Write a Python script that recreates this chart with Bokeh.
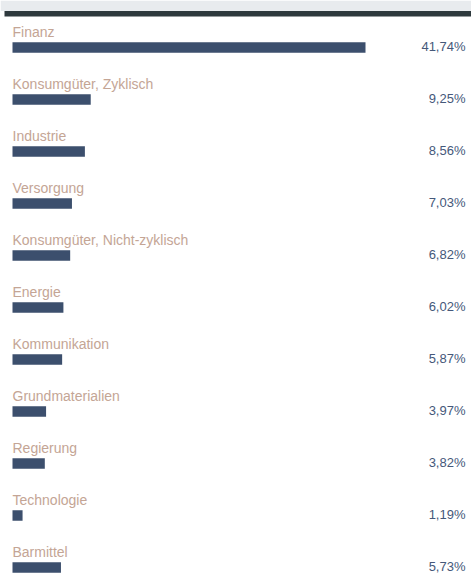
from bokeh.plotting import figure
from bokeh.models import Range1d, BoxAnnotation, ColumnDataSource
from bokeh.embed import file_html
from bokeh.resources import INLINE
from bokeh.core.properties import value

categories = ["Finanz", "Konsumgüter, Zyklisch", "Industrie", "Versorgung",
              "Konsumgüter, Nicht-zyklisch", "Energie", "Kommunikation",
              "Grundmaterialien", "Regierung", "Technologie", "Barmittel"]
values = [41.74, 9.25, 8.56, 7.03, 6.82, 6.02, 5.87, 3.97, 3.82, 1.19, 5.73]
value_labels = ["41,74%", "9,25%", "8,56%", "7,03%", "6,82%", "6,02%", "5,87%",
                "3,97%", "3,82%", "1,19%", "5,73%"]

W, H = 471, 575
left_px = 12
px_per_unit = 353 / 41.74
row_px = 52
first_px = 47

x0 = -left_px / px_per_unit
x1 = (W - left_px) / px_per_unit
y_top = -first_px / row_px
y_bot = (H - first_px) / row_px

p = figure(width=W, height=H, output_backend="svg", toolbar_location=None,
           x_range=Range1d(x0, x1), y_range=Range1d(y_bot, y_top),
           min_border=0, outline_line_color=None, background_fill_color="white",
           border_fill_color="white")
p.axis.visible = False
p.grid.visible = False

# header bands
p.add_layout(BoxAnnotation(top=y_top, bottom=y_top + 10.5 / row_px,
                           fill_color="#e8ebee", fill_alpha=1, line_color=None))
p.add_layout(BoxAnnotation(top=y_top + 10.5 / row_px, bottom=y_top + 16 / row_px,
                           left=x0 + 4 / px_per_unit,
                           fill_color="#2e393d", fill_alpha=1, line_color=None))

idx = list(range(len(categories)))
src = ColumnDataSource(dict(y=idx, v=values, cat=categories, lab=value_labels,
                            xr=[x1] * len(idx), x0=[0] * len(idx)))

p.hbar(y="y", left=0, right="v", height=10.5 / row_px, source=src,
       fill_color="#3c4f6d", line_color=None)

p.text(x="x0", y="y", text="cat", source=src, y_offset=-16,
       text_font=value("Liberation Sans"), text_font_size="14px",
       text_color="#c4a595", text_baseline="alphabetic", text_align="left")

p.text(x="xr", y="y", text="lab", source=src, x_offset=-6, y_offset=-1.5,
       text_font=value("Liberation Sans"), text_font_size="13px",
       text_color="#45587a", text_baseline="alphabetic", text_align="right")

open("out.html", "w").write(file_html(p, INLINE))
